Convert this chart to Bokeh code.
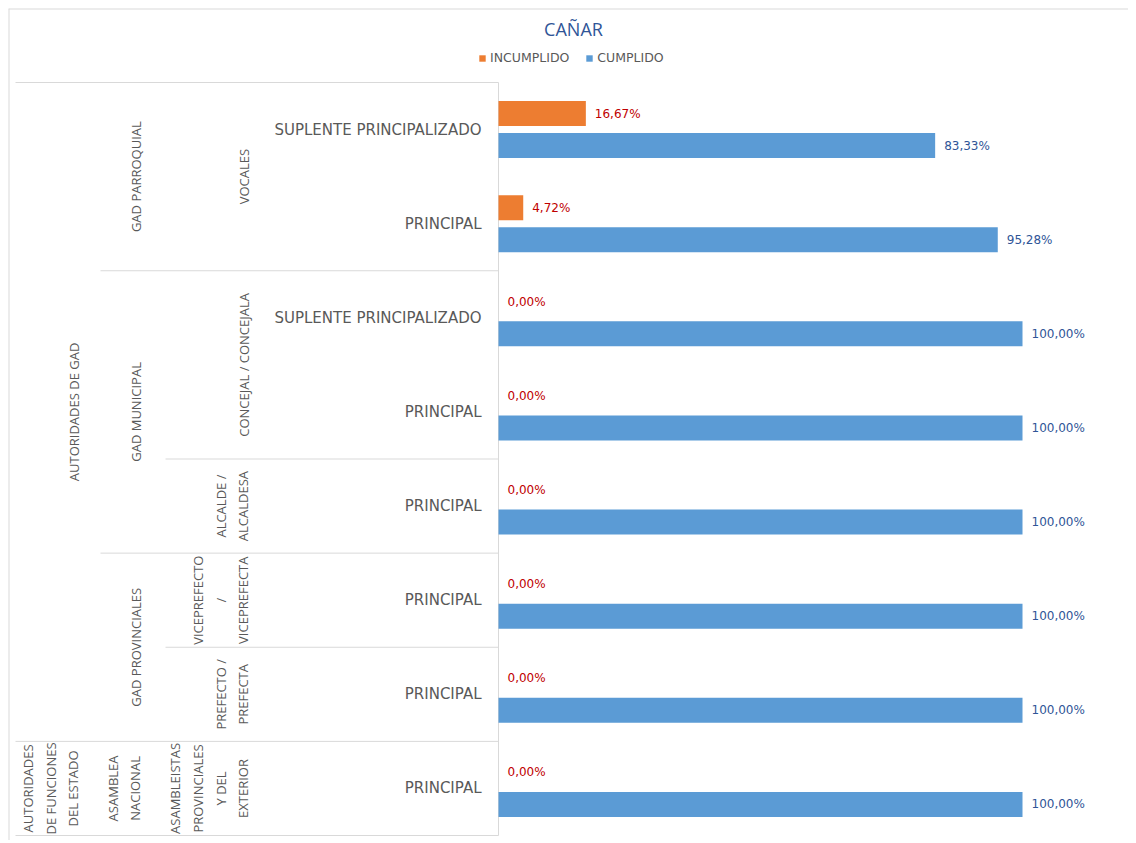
import math
from bokeh.plotting import figure
from bokeh.models import Range1d, Legend, LegendItem, Label, Span
from bokeh.core.properties import value
from bokeh.embed import file_html
from bokeh.resources import INLINE

# ---------------- data ----------------
chart_title = "CAÑAR"
series_names = ["INCUMPLIDO", "CUMPLIDO"]

level1 = ["AUTORIDADES DE GAD"] * 7 + ["AUTORIDADES\nDE FUNCIONES\nDEL ESTADO"]
level2 = (["GAD PARROQUIAL"] * 2 + ["GAD MUNICIPAL"] * 3 +
          ["GAD PROVINCIALES"] * 2 + ["ASAMBLEA\nNACIONAL"])
level3 = (["VOCALES"] * 2 + ["CONCEJAL / CONCEJALA"] * 2 +
          ["ALCALDE /\nALCALDESA", "VICEPREFECTO\n/\nVICEPREFECTA",
           "PREFECTO /\nPREFECTA", "ASAMBLEISTAS\nPROVINCIALES\nY DEL\nEXTERIOR"])
level4 = ["SUPLENTE PRINCIPALIZADO", "PRINCIPAL", "SUPLENTE PRINCIPALIZADO",
          "PRINCIPAL", "PRINCIPAL", "PRINCIPAL", "PRINCIPAL", "PRINCIPAL"]

incumplido = [16.67, 4.72, 0.00, 0.00, 0.00, 0.00, 0.00, 0.00]
cumplido = [83.33, 95.28, 100.00, 100.00, 100.00, 100.00, 100.00, 100.00]

# ---------------- layout ----------------
W, H = 1128, 840
PAD = 8               # white band left/top of the chart border
FW, FH = W - PAD, H - PAD   # frame size
AXIS_X = 490          # px from frame left to the value axis
PX_PER_100 = 524      # px for 100 %
ROWS_TOP = 74
ROWS_BOTTOM = 827
ppu = PX_PER_100 / 100.0
n = len(level4)
row_px = (ROWS_BOTTOM - ROWS_TOP) / n

GRID = "#D9D9D9"
LABEL = "#595959"
ORANGE = "#ED7D31"
BLUE = "#5B9BD5"

x_range = Range1d(-AXIS_X / ppu, (FW - AXIS_X) / ppu)
y_range = Range1d(n + (FH - ROWS_BOTTOM) / row_px, -ROWS_TOP / row_px)

p = figure(width=W, height=H, x_range=x_range, y_range=y_range,
           output_backend="svg", toolbar_location=None, tools="",
           x_axis_location=None, y_axis_location=None,
           min_border=0, min_border_left=PAD, min_border_top=PAD)
p.grid.visible = False
p.outline_line_color = None
p.background_fill_color = "white"
p.border_fill_color = "white"

# chart border (top and left only are visible in the reference)
p.add_layout(Span(location=x_range.start, dimension="height",
                  line_color=GRID, line_width=2))
p.add_layout(Span(location=y_range.end, dimension="width",
                  line_color=GRID, line_width=2))

# category table lines (left border of each level, in px from the axis)
level_left_px = [483, 398, 333]
def px_to_x(px):
    return -px / ppu

seg_x0, seg_y = [], []
seg_x0.append(px_to_x(level_left_px[0])); seg_y.append(0)
for i in range(1, n):
    if level1[i] != level1[i - 1]:
        seg_x0.append(px_to_x(level_left_px[0])); seg_y.append(i)
    elif level2[i] != level2[i - 1]:
        seg_x0.append(px_to_x(level_left_px[1])); seg_y.append(i)
    elif level3[i] != level3[i - 1]:
        seg_x0.append(px_to_x(level_left_px[2])); seg_y.append(i)
seg_x0.append(px_to_x(level_left_px[0])); seg_y.append(n)
p.segment(x0=seg_x0, y0=seg_y, x1=[0] * len(seg_y), y1=seg_y,
          line_color=GRID, line_width=1)
p.segment(x0=[0], y0=[0], x1=[0], y1=[n], line_color=GRID, line_width=1)

# bars
centers = [i + 0.5 for i in range(n)]
y_inc = [c - 0.17 for c in centers]
y_cum = [c + 0.17 for c in centers]
r_inc = p.hbar(y=y_inc, left=0, right=incumplido, height=0.266,
               fill_color=ORANGE, line_color=None)
r_cum = p.hbar(y=y_cum, left=0, right=cumplido, height=0.266,
               fill_color=BLUE, line_color=None)

def fmt(v):
    return f"{v:.2f}".replace(".", ",") + "%"

p.text(x=incumplido, y=y_inc, text=[fmt(v) for v in incumplido], x_offset=9,
       text_font=value("DejaVu Sans"), text_font_size="12px",
       text_color="#C00000", text_align="left", text_baseline="middle")
p.text(x=cumplido, y=y_cum, text=[fmt(v) for v in cumplido], x_offset=9,
       text_font=value("DejaVu Sans"), text_font_size="12px",
       text_color="#2F5597", text_align="left", text_baseline="middle")

# level 4 labels (horizontal)
p.text(x=[0] * n, y=centers, text=level4, x_offset=-17,
       text_font=value("DejaVu Sans"), text_font_size="15px",
       text_color=LABEL, text_align="right", text_baseline="middle")

# rotated group labels
def runs(arr):
    out = []
    start = 0
    for i in range(1, n + 1):
        if i == n or arr[i] != arr[start]:
            out.append((arr[start], (start + i) / 2.0))
            start = i
    return out

for arr, off in ((level1, -416), (level2, -354), (level3, -246)):
    groups = runs(arr)
    p.text(x=[0] * len(groups), y=[g[1] for g in groups],
           text=[g[0] for g in groups], x_offset=off, angle=math.pi / 2,
           text_font=value("Open Sans"), text_font_size="13px",
           text_color=LABEL, text_align="center", text_baseline="bottom",
           text_line_height=1.27)

# title
p.add_layout(Label(x=565, y=FH - 20, x_units="screen", y_units="screen",
                   text=chart_title, text_font="Open Sans",
                   text_font_size="18px", text_color="#2F5597",
                   text_align="center", text_baseline="middle"))

# legend
legend = Legend(items=[LegendItem(label=series_names[0], renderers=[r_inc]),
                       LegendItem(label=series_names[1], renderers=[r_cum])],
                orientation="horizontal", location=(470, FH - 57),
                padding=0, margin=0, spacing=16, label_standoff=4,
                glyph_width=8, glyph_height=8,
                label_text_font="DejaVu Sans", label_text_font_size="12.5px",
                label_text_color=LABEL, border_line_color=None,
                background_fill_alpha=0)
p.add_layout(legend)

open("out.html", "w").write(file_html(p, INLINE))
